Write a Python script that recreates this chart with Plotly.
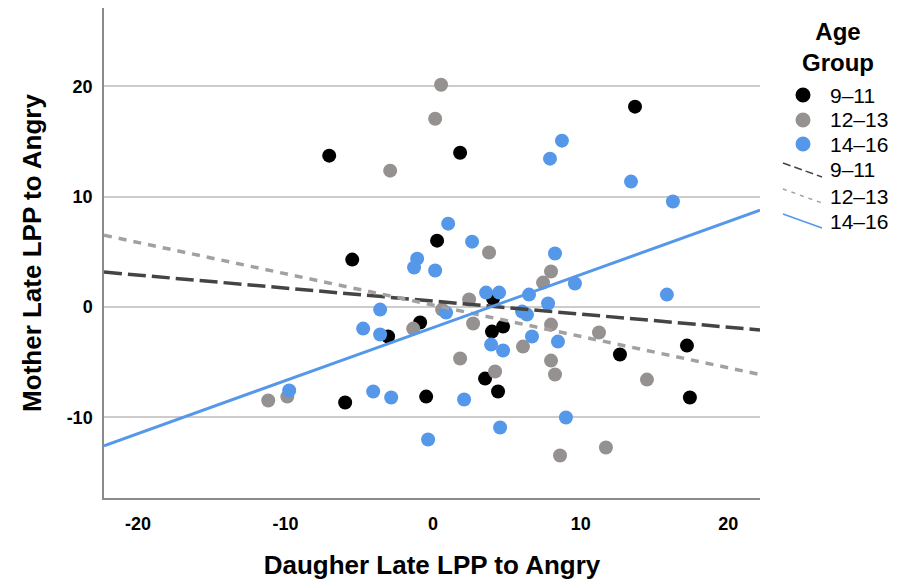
import plotly.graph_objects as go

# Age groups
groups = ["9–11", "12–13", "14–16"]
colors = ["#000000", "#959191", "#5597E8"]

# Daughter (x) and mother (y) late LPP to angry faces, per age group
x_9_11 = [-7.04, 1.83, 13.68, -5.48, 0.27, -3.05, -0.88, -5.96, -0.47, 3.52,
          4.40, 3.99, 4.74, 12.66, 17.20, 17.40, 4.06]
y_9_11 = [13.72, 13.99, 18.16, 4.30, 6.02, -2.67, -1.40, -8.65, -8.11, -6.48,
          -7.65, -2.22, -1.77, -4.30, -3.49, -8.20, 0.77]

x_12_13 = [0.54, 0.14, -2.91, 3.79, 7.99, 7.45, 2.44, -11.17, -9.88, -1.35,
           2.71, 1.83, 4.20, 6.09, 7.99, 7.99, 8.26, 11.24, 14.49, 8.60,
           11.71, 0.61]
y_12_13 = [20.15, 17.07, 12.36, 4.94, 3.22, 2.22, 0.68, -8.47, -8.11, -1.95,
           -1.49, -4.66, -5.84, -3.58, -1.59, -4.85, -6.11, -2.31, -6.57, -13.45,
           -12.73, -0.23]

x_14_16 = [8.73, 7.92, 13.41, 16.25, 1.02, 2.64, -1.08, -1.29, 0.14, 8.26,
           9.61, 15.84, 3.59, 4.47, 6.50, 7.79, 6.03, 6.36, 6.70, 8.46,
           3.93, 4.74, -3.59, 0.88, -4.74, -3.59, -9.75, -4.06, -2.84, 2.10,
           -0.34, 4.54, 9.00]
y_14_16 = [15.08, 13.45, 11.37, 9.56, 7.56, 5.93, 4.39, 3.58, 3.31, 4.85,
           2.13, 1.13, 1.31, 1.31, 1.13, 0.32, -0.41, -0.68, -2.67, -3.13,
           -3.40, -3.94, -0.23, -0.50, -1.95, -2.49, -7.56, -7.65, -8.20, -8.38,
           -12.00, -10.91, -10.01]

# Linear fit per age group (slope, intercept)
fit_slopes = [-0.118, -0.284, 0.480]
fit_intercepts = [0.54, 0.18, -1.86]

x_range = [-22.3, 22.15]
y_range = [-17.3, 27.1]
x_ticks = [-20, -10, 0, 10, 20]
y_ticks = [-10, 0, 10, 20]

xs_all = [x_9_11, x_12_13, x_14_16]
ys_all = [y_9_11, y_12_13, y_14_16]

line_dash = ["18px,6px", "8px,7px", "solid"]
line_colors = ["#444444", "#A3A0A0", "#5597E8"]
line_widths = [3.5, 3.5, 3]

W, H = 899, 580
M_L, M_R, M_T, M_B = 104, 139, 8, 82
PW, PH = W - M_L - M_R, H - M_T - M_B


def px_to_paper(px, py):
    return (px - M_L) / PW, (H - M_B - py) / PH


fig = go.Figure()

for g, c, xs, ys in zip(groups, colors, xs_all, ys_all):
    fig.add_trace(go.Scatter(
        x=xs, y=ys, mode="markers", name=g, showlegend=False,
        marker=dict(color=c, size=14, line=dict(width=0)),
    ))

for g, m, b, dash, lc, lw in zip(groups, fit_slopes, fit_intercepts,
                                 line_dash, line_colors, line_widths):
    fx = list(x_range)
    fy = [m * v + b for v in fx]
    fig.add_trace(go.Scatter(
        x=fx, y=fy, mode="lines", name=g, showlegend=False,
        line=dict(color=lc, width=lw, dash=dash),
    ))

# Key: group title, marker rows, then fit-line rows
shapes = []
annotations = []
key_font = dict(family="Liberation Sans, Arial", size=21, color="#000")
title_key_font = dict(family="Liberation Sans, Arial", size=24, color="#000",
                      weight="bold")
ax, ay = px_to_paper(838, 47)
annotations.append(dict(x=ax, y=ay, xref="paper", yref="paper",
                        text="Age<br>Group", align="center",
                        showarrow=False, xanchor="center", yanchor="middle",
                        font=title_key_font))

marker_rows = [95, 120, 144]
line_rows = [170, 196, 221]
sym_x, text_x = 803, 828
for g, c, ry in zip(groups, colors, marker_rows):
    ax, ay = px_to_paper(sym_x, ry)
    shapes.append(dict(type="circle", xref="paper", yref="paper",
                       xsizemode="pixel", ysizemode="pixel",
                       xanchor=ax, yanchor=ay, x0=-7.5, x1=7.5, y0=-7.5, y1=7.5,
                       fillcolor=c, line=dict(width=0)))
    tx, ty = px_to_paper(text_x, ry)
    annotations.append(dict(x=tx, y=ty, xref="paper", yref="paper", text=g,
                            showarrow=False, xanchor="left", yanchor="middle",
                            font=key_font))
for g, dash, lc, ry in zip(groups, ["8px,4px", "4px,5px", "solid"],
                           line_colors, line_rows):
    ax, ay = px_to_paper(sym_x, ry)
    shapes.append(dict(type="line", xref="paper", yref="paper",
                       xsizemode="pixel", ysizemode="pixel",
                       xanchor=ax, yanchor=ay, x0=-20, x1=19, y0=7, y1=-7,
                       line=dict(color=lc, width=1.5, dash=dash)))
    tx, ty = px_to_paper(text_x, ry)
    annotations.append(dict(x=tx, y=ty, xref="paper", yref="paper", text=g,
                            showarrow=False, xanchor="left", yanchor="middle",
                            font=key_font))

tick_font = dict(family="Liberation Sans, Arial", size=18,
                 color="#000000", weight="bold")
title_font = dict(family="Liberation Sans, Arial", size=26,
                  color="#000000", weight="bold")

fig.update_layout(
    width=W, height=H,
    margin=dict(l=M_L, r=M_R, t=M_T, b=M_B, autoexpand=False),
    paper_bgcolor="white", plot_bgcolor="white",
    showlegend=False,
    shapes=shapes,
    annotations=annotations,
    xaxis=dict(
        range=x_range, tickvals=x_ticks, ticktext=[str(t) for t in x_ticks],
        showgrid=False, zeroline=False, automargin=False,
        showline=True, linecolor="#8a8a8a", linewidth=1.5,
        ticks="", ticklabelstandoff=9, tickfont=tick_font,
        title=dict(text="Daugher Late LPP to Angry", font=title_font, standoff=27),
    ),
    yaxis=dict(
        range=y_range, tickvals=y_ticks, ticktext=[str(t) for t in y_ticks],
        showgrid=True, gridcolor="#cccccc", gridwidth=1.5, zeroline=False,
        automargin=False,
        showline=True, linecolor="#8a8a8a", linewidth=1.5,
        ticks="", ticklabelstandoff=6, tickfont=tick_font,
        title=dict(text="Mother Late LPP to Angry", font=title_font, standoff=18),
    ),
)

fig.write_html("out.html")
